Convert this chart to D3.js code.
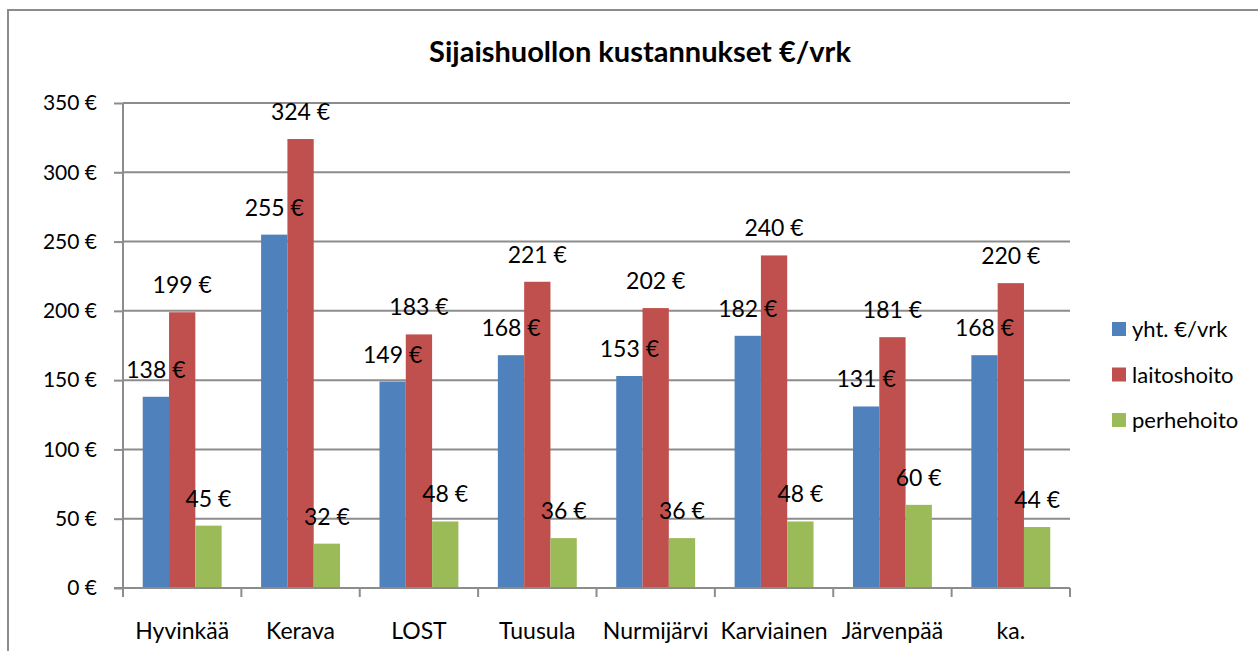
<!DOCTYPE html>
<html>
<head>
<meta charset="utf-8">
<script src="https://cdn.jsdelivr.net/npm/d3@7"></script>
<style>
  body { margin: 0; background: #fff; }
  svg { font-family: Lato, "Open Sans", sans-serif; }
</style>
</head>
<body>
<svg class="chart"></svg>
<script>
    var categories = ['Hyvinkää', 'Kerava', 'LOST', 'Tuusula', 'Nurmijärvi', 'Karviainen', 'Järvenpää', 'ka.'];
    var seriesNames = ['yht. €/vrk', 'laitoshoito', 'perhehoito'];
    var yhtValues = [138, 255, 149, 168, 153, 182, 131, 168];
    var laitosValues = [199, 324, 183, 221, 202, 240, 181, 220];
    var perheValues = [45, 32, 48, 36, 36, 48, 60, 44];
    var yTicks = [0, 50, 100, 150, 200, 250, 300, 350];
    var colors = ['#4F81BD', '#C0504D', '#9BBB59'];

    var config = {
        width: 1258, height: 651,
        left: 123, right: 1070, top: 103, bottom: 588
    };

    var seriesValues = [yhtValues, laitosValues, perheValues];

    var chart = d3.select('.chart')
        .attr('width', config.width)
        .attr('height', config.height);

    // outer chart border (right/bottom run off the picture)
    chart.append('rect')
        .attr('x', 8).attr('y', 10)
        .attr('width', 1270).attr('height', 660)
        .attr('fill', 'none')
        .attr('stroke', '#8c8c8c')
        .attr('stroke-width', 2);

    chart.append('text')
        .attr('x', 640).attr('y', 62)
        .attr('text-anchor', 'middle')
        .attr('font-weight', 'bold')
        .attr('font-size', 29)
        .text('Sijaishuollon kustannukset €/vrk');

    var x0 = d3.scaleBand()
        .domain(categories)
        .range([config.left, config.right]);

    var x1 = d3.scaleBand()
        .domain(seriesNames)
        .range([0, x0.bandwidth()])
        .paddingOuter(0.75);

    var y = d3.scaleLinear()
        .domain([0, 350])
        .range([config.bottom, config.top]);

    // gridlines
    chart.append('g')
        .selectAll('line')
        .data(yTicks.slice(1))
        .enter().append('line')
        .attr('x1', config.left).attr('x2', config.right)
        .attr('y1', function(d) { return y(d); })
        .attr('y2', function(d) { return y(d); })
        .attr('stroke', '#8c8c8c')
        .attr('stroke-width', 2);

    // y axis
    var yAxis = d3.axisLeft(y)
        .tickValues(yTicks)
        .tickSize(9)
        .tickPadding(17)
        .tickFormat(function(d) { return d + ' €'; });

    var yG = chart.append('g')
        .attr('transform', 'translate(' + config.left + ',0)')
        .call(yAxis);
    yG.selectAll('path, line').attr('stroke', '#8c8c8c').attr('stroke-width', 2);
    yG.select('.domain').attr('d', 'M0,' + config.top + 'V' + config.bottom);
    yG.selectAll('text')
        .attr('font-size', 21)
        .attr('font-family', 'Lato, "Open Sans", sans-serif')
        .attr('fill', '#000');

    // bars
    var groups = chart.append('g')
        .selectAll('g')
        .data(categories)
        .enter().append('g')
        .attr('transform', function(d) { return 'translate(' + x0(d) + ',0)'; });

    groups.selectAll('rect')
        .data(function(d, i) {
            return seriesNames.map(function(s, j) { return { s: s, j: j, v: seriesValues[j][i] }; });
        })
        .enter().append('rect')
        .attr('x', function(d) { return x1(d.s); })
        .attr('width', x1.bandwidth())
        .attr('y', function(d) { return y(d.v); })
        .attr('height', function(d) { return y(0) - y(d.v); })
        .attr('fill', function(d) { return colors[d.j]; });

    groups.selectAll('text')
        .data(function(d, i) {
            return seriesNames.map(function(s, j) { return { s: s, j: j, v: seriesValues[j][i] }; });
        })
        .enter().append('text')
        .attr('x', function(d) { return x1(d.s) + x1.bandwidth() / 2; })
        .attr('y', function(d) { return y(d.v) - 19; })
        .attr('text-anchor', 'middle')
        .attr('font-size', 23)
        .text(function(d) { return d.v + ' €'; });

    // x axis
    var xAxis = d3.axisBottom(x0)
        .tickSize(0)
        .tickPadding(35);
    var xG = chart.append('g')
        .attr('transform', 'translate(0,' + config.bottom + ')')
        .call(xAxis);
    xG.select('.domain').attr('stroke', '#8c8c8c').attr('stroke-width', 2)
        .attr('d', 'M' + (config.left - 9) + ',0H' + config.right);
    xG.selectAll('text')
        .attr('font-size', 23)
        .attr('font-family', 'Lato, "Open Sans", sans-serif')
        .attr('fill', '#000');

    var bounds = categories.map(function(c) { return x0(c); }).concat([config.right]);
    xG.selectAll('line.sep')
        .data(bounds)
        .enter().append('line')
        .attr('class', 'sep')
        .attr('x1', function(d) { return d; }).attr('x2', function(d) { return d; })
        .attr('y1', 0).attr('y2', 9)
        .attr('stroke', '#8c8c8c')
        .attr('stroke-width', 2);

    // legend
    var legend = chart.append('g')
        .selectAll('g')
        .data(seriesNames)
        .enter().append('g')
        .attr('transform', function(d, i) { return 'translate(1112,' + (329 + i * 45.5) + ')'; });
    legend.append('rect')
        .attr('x', 0).attr('y', -7)
        .attr('width', 14).attr('height', 14)
        .attr('fill', function(d, i) { return colors[i]; });
    legend.append('text')
        .attr('x', 20).attr('y', 8)
        .attr('font-size', 22)
        .text(function(d) { return d; });
</script>
</body>
</html>
